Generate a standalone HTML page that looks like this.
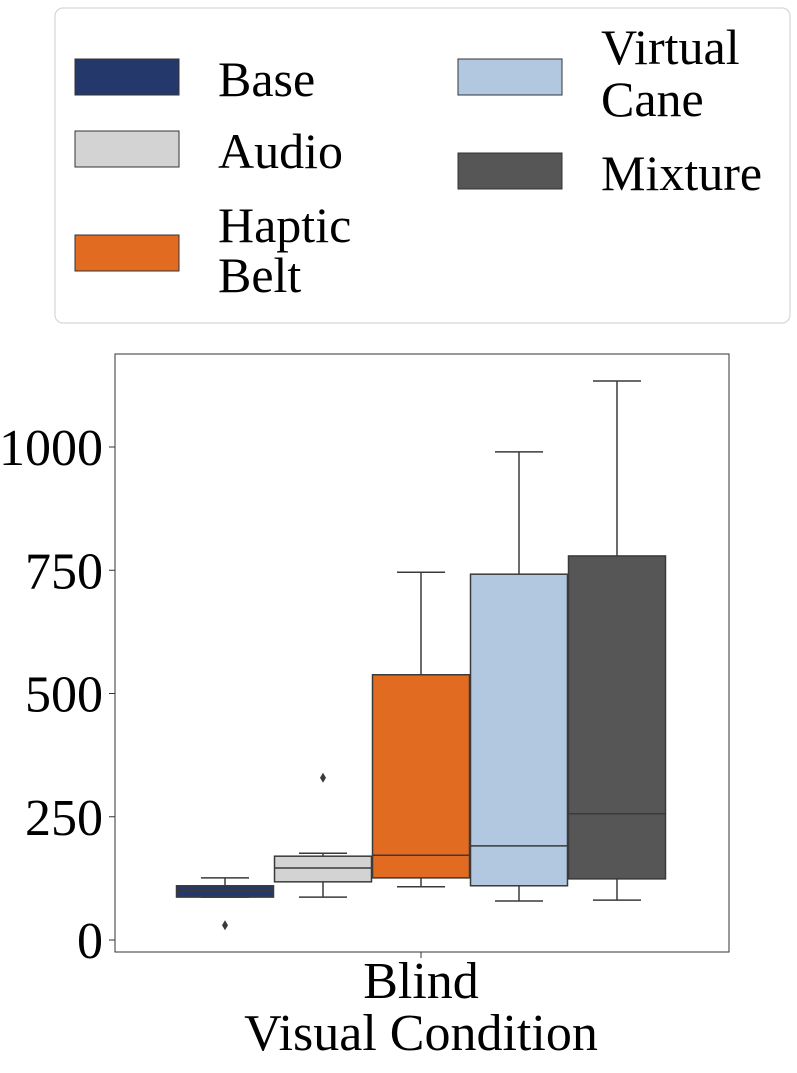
<!DOCTYPE html>
<html><head><meta charset="utf-8"><style>
body{margin:0;background:#fff;width:797px;height:1068px;overflow:hidden}
svg{font-family:"Liberation Serif",serif}
</style></head><body>
<svg width="797" height="1068" viewBox="0 0 797 1068">
<rect x="55" y="8" width="735" height="315" rx="8" fill="#fff" stroke="#d6d6d6" stroke-width="1.2"/>
<g><rect x="75" y="59" width="104" height="36" fill="#24386b" stroke="#333"/><text x="218" y="96" font-size="50">Base</text></g>
<g><rect x="75" y="131" width="104" height="36" fill="#d3d3d3" stroke="#333"/><text x="218" y="168" font-size="50">Audio</text></g>
<g><rect x="75" y="235" width="104" height="36" fill="#e16b21" stroke="#333"/><text x="218" y="242" font-size="50">Haptic</text><text x="218" y="292" font-size="50">Belt</text></g>
<g><rect x="458" y="59" width="104" height="36" fill="#b1c8e0" stroke="#333"/><text x="601" y="64" font-size="50">Virtual</text><text x="601" y="116" font-size="50">Cane</text></g>
<g><rect x="458" y="153" width="104" height="36" fill="#565656" stroke="#333"/><text x="601" y="190" font-size="50">Mixture</text></g>
<rect x="115" y="354" width="614" height="598" fill="none" stroke="#333" stroke-width="1"/>
<g id="yaxis"></g>
<g id="boxes"></g>
<line x1="421" y1="952" x2="421" y2="958" stroke="#333"/>
<text x="421" y="998" font-size="52" text-anchor="middle">Blind</text>
<text x="421" y="1050" font-size="52" text-anchor="middle">Visual Condition</text>
</svg>
<script>
const categories=["Base","Audio","Haptic Belt","Virtual Cane","Mixture"];
const colors=["#24386b","#d3d3d3","#e16b21","#b1c8e0","#565656"];
const whiskerLow=[87,87,108,79,81];
const q1=[87,118,126,110,124];
const median=[101,146,172,191,256];
const q3=[110,170,538,742,779];
const whiskerHigh=[126,176,746,990,1134];
const outliers=[[30],[329],[],[],[]];
const yTicks=[0,250,500,750,1000];
const NS="http://www.w3.org/2000/svg";
function y(v){return 940-v*0.493;}
function xc(i){return 225+i*98;}
const bw=97;
function mk(t,a,p){const e=document.createElementNS(NS,t);for(const k in a)e.setAttribute(k,a[k]);p.appendChild(e);return e;}
const ya=document.getElementById('yaxis');
yTicks.forEach(t=>{
 const l=mk('line',{x1:109,x2:115,y1:y(t),y2:y(t),stroke:'#333'},ya);
 
 
 const tx=mk('text',{x:103,y:y(t)+18,'font-size':52,'text-anchor':'end'},ya);
 tx.textContent=t;
 
 
});
const bg=document.getElementById('boxes');
categories.forEach((c,i)=>{
 const g=mk('g',{},bg);
 
 
 const x=xc(i),s='#3a3a3a';
 mk('line',{x1:x,x2:x,y1:y(whiskerLow[i]),y2:y(q1[i]),stroke:s,'stroke-width':1.5},g);
 mk('line',{x1:x,x2:x,y1:y(q3[i]),y2:y(whiskerHigh[i]),stroke:s,'stroke-width':1.5},g);
 mk('line',{x1:x-24,x2:x+24,y1:y(whiskerLow[i]),y2:y(whiskerLow[i]),stroke:s,'stroke-width':1.5},g);
 mk('line',{x1:x-24,x2:x+24,y1:y(whiskerHigh[i]),y2:y(whiskerHigh[i]),stroke:s,'stroke-width':1.5},g);
 mk('rect',{x:x-bw/2,y:y(q3[i]),width:bw,height:Math.max(1,y(q1[i])-y(q3[i])),fill:colors[i],stroke:s,'stroke-width':1.5},g);
 mk('line',{x1:x-bw/2,x2:x+bw/2,y1:y(median[i]),y2:y(median[i]),stroke:s,'stroke-width':1.5},g);
 outliers[i].forEach(o=>{mk('path',{d:`M${x} ${y(o)-5}L${x+3} ${y(o)}L${x} ${y(o)+5}L${x-3} ${y(o)}Z`,fill:s},g);});
});
</script>
</body></html>
